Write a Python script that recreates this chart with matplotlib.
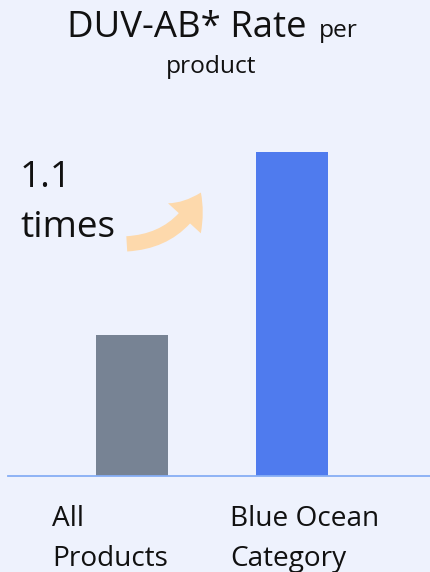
import matplotlib

matplotlib.use("Agg")

import matplotlib.pyplot as plt
from matplotlib.patches import FancyArrowPatch

categories = ["All\nProducts", "Blue Ocean\nCategory"]
rates = [1.0, 2.3]
bar_colors = ["#778394", "#4F7BEE"]

W, H, DPI = 430, 572, 100
BG = "#EEF2FD"
INK = "#111111"
FONT = ["Open Sans", "DejaVu Sans"]


def px(v):
    return v * 72.0 / DPI


def fx(x):
    return x / W


def fy(y):
    return 1 - y / H


fig = plt.figure(figsize=(W / DPI, H / DPI), dpi=DPI, facecolor=BG)

# axes: baseline at y=476px, spans x 8..430
ax_bottom = 476
ax_top = 100
ax = fig.add_axes([fx(8), fy(ax_bottom), (430 - 8) / W, (ax_bottom - ax_top) / H])
ax.set_facecolor("none")

unit = 160.0  # px per category step
ax.set_xlim(-(132 - 8) / unit, 1 + (430 - 292) / unit)
px_per_val = 324 / rates[1]
ax.set_ylim(0, (ax_bottom - ax_top) / px_per_val)

ax.bar(range(len(rates)), rates, width=72 / unit, color=bar_colors, zorder=2)

for side in ["top", "right", "left"]:
    ax.spines[side].set_visible(False)
ax.spines["bottom"].set_color("#86AEF5")
ax.spines["bottom"].set_linewidth(1.3)
ax.set_yticks([])
ax.set_xticks([])

# category labels, left aligned under each bar
label_left = [52, 230]
for lab, x0 in zip(categories, label_left):
    first, second = lab.split("\n")
    fig.text(fx(x0), fy(526), first, ha="left", va="baseline",
             fontsize=px(28), family=FONT, color=INK)
    fig.text(fx(x0), fy(566), second, ha="left", va="baseline",
             fontsize=px(28), family=FONT, color=INK)

title = fig.text(fx(67), fy(37), "DUV-AB* Rate", ha="left", va="baseline",
                 fontsize=px(36.5), family=FONT, color=INK)
fig.canvas.draw()
bb = title.get_window_extent(renderer=fig.canvas.get_renderer())
fig.text(bb.x1 / W + fx(12), fy(37), "per", ha="left", va="baseline",
         fontsize=px(24.5), family=FONT, color=INK)
fig.text(fx(211), fy(73), "product", ha="center", va="baseline",
         fontsize=px(24.5), family=FONT, color=INK)

fig.text(fx(20), fy(187), "1.1", ha="left", va="baseline",
         fontsize=px(37), family=FONT, color=INK)
fig.text(fx(20), fy(237), "times", ha="left", va="baseline",
         fontsize=px(37), family=FONT, color=INK)

arrow = FancyArrowPatch((fx(124), fy(244)), (fx(202), fy(190)),
                        transform=fig.transFigure,
                        connectionstyle="arc3,rad=0.32",
                        arrowstyle="simple,head_width=3.2,head_length=2.2,tail_width=1.1",
                        mutation_scale=10, color="#FFD7A3", alpha=0.9, lw=0)
fig.patches.append(arrow)

fig.savefig("out.png", dpi=DPI, facecolor=BG)
